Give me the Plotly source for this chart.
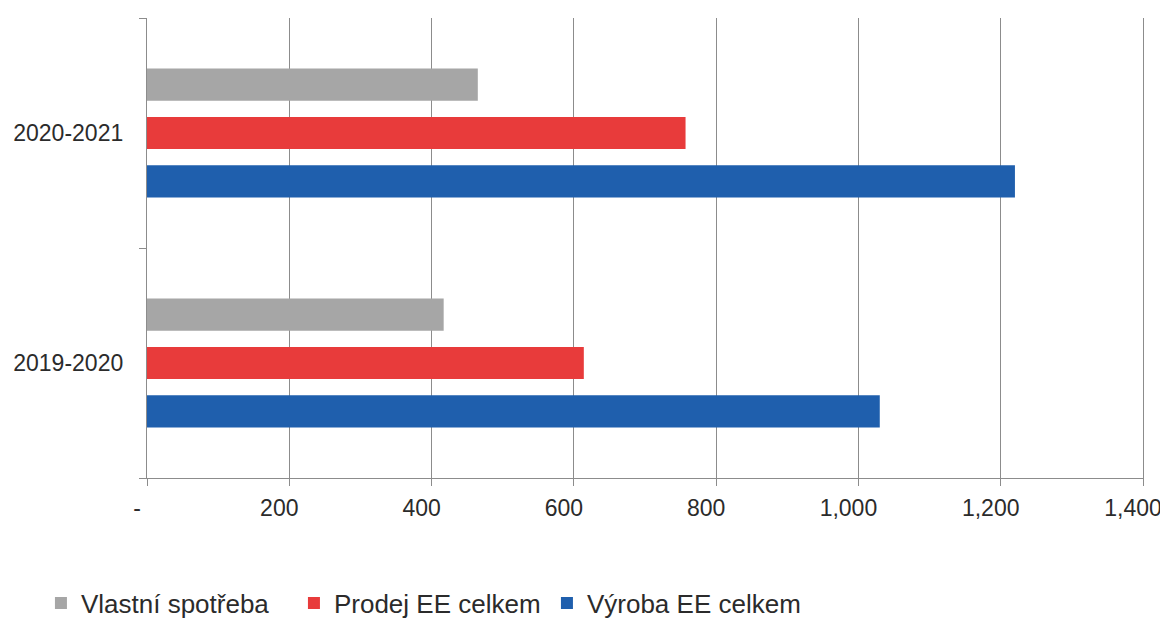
import plotly.graph_objects as go

categories = ["2019-2020", "2020-2021"]
vyroba = [1030, 1220]
prodej = [614, 757]
vlastni = [417, 465]

x_tickvals = [0, 200, 400, 600, 800, 1000, 1200, 1400]
x_ticktext = ["-", "200", "400", "600", "800", "1,000", "1,200", "1,400"]

FONT = "Liberation Sans, Arial, sans-serif"
TXT = "#2b2b2b"
GRID = "#8c8c8c"

fig = go.Figure()
fig.add_trace(go.Bar(y=categories, x=vyroba, name="Výroba EE celkem", orientation="h",
                     marker=dict(color="#1f5fad", line=dict(width=0))))
fig.add_trace(go.Bar(y=categories, x=prodej, name="Prodej EE celkem", orientation="h",
                     marker=dict(color="#e83b3b", line=dict(width=0))))
fig.add_trace(go.Bar(y=categories, x=vlastni, name="Vlastní spotřeba", orientation="h",
                     marker=dict(color="#a6a6a6", line=dict(width=0))))

# page body has an 8px margin, so the figure is sized/offset to compensate
fig.update_layout(
    width=1160, height=611,
    margin=dict(l=139, r=25, t=10, b=141, autoexpand=False),
    paper_bgcolor="white", plot_bgcolor="white",
    barmode="group", bargap=0.37, bargroupgap=0.333,
    font=dict(family=FONT, size=23, color=TXT),
    showlegend=True,
    legend=dict(orientation="h", traceorder="reversed",
                xref="container", yref="container",
                x=0.0284, xanchor="left", y=0.0262, yanchor="middle",
                font=dict(size=26, color=TXT), itemwidth=30,
                entrywidth=208, entrywidthmode="pixels"),
    xaxis=dict(range=[0, 1400], tickvals=x_tickvals, ticktext=x_ticktext,
               showgrid=True, gridcolor=GRID, gridwidth=1.3,
               showline=True, linecolor=GRID, linewidth=1.3,
               ticks="outside", ticklen=7, tickcolor=GRID, tickwidth=1.3,
               ticklabelstandoff=2, ticklabelshift=-10, ticklabeloverflow="allow",
               zeroline=False, fixedrange=True, automargin=False),
    yaxis=dict(type="category", categoryorder="array", categoryarray=categories,
               showgrid=False, showline=True, linecolor=GRID, linewidth=1.3,
               mirror=True,
               ticks="outside", ticklen=7, tickcolor=GRID, tickwidth=1.3,
               tickson="boundaries", ticklabelstandoff=18, fixedrange=True,
               automargin=False),
)

fig.write_html("out.html")
